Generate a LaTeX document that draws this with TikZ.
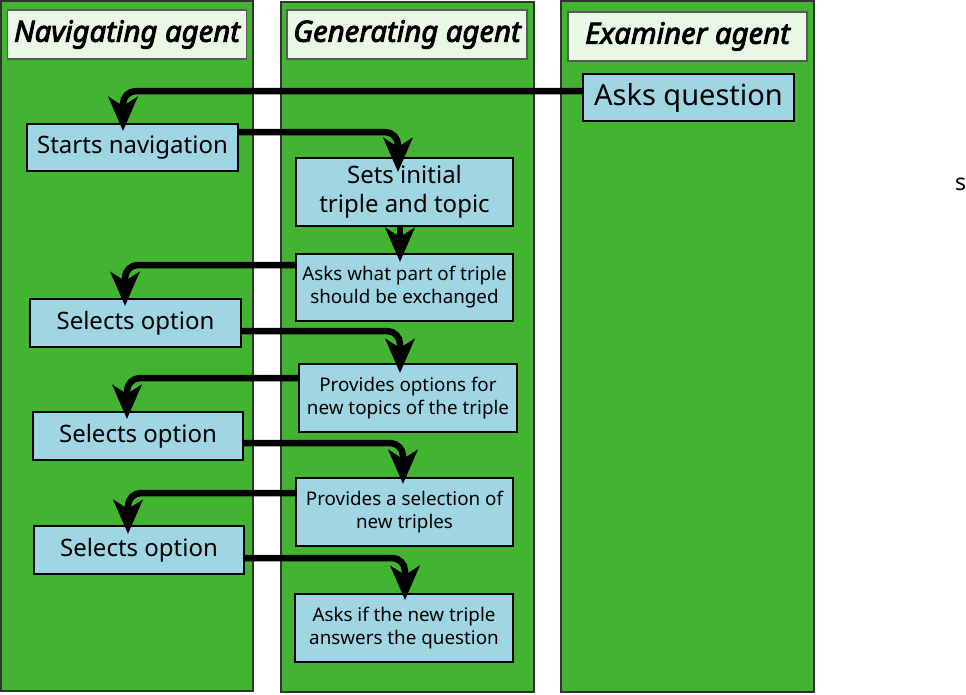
\documentclass[tikz,border=0pt]{standalone}
\usepackage{fontspec}
\setmainfont{Noto Sans}
\newfontfamily\headfont{Noto Sans}[ItalicFeatures={FakeBold=3}]
\usetikzlibrary{arrows.meta,calc}
\definecolor{lanegreen}{HTML}{42B431}
\definecolor{headfill}{HTML}{E8F8E4}
\definecolor{boxfill}{HTML}{A0D6E4}
\definecolor{laneedge}{HTML}{333333}
% #1 start point, #2 target node, #3 xshift, #4 yshift of tip
\newcommand\flowarrow[4]{%
  \draw[flowline] (#1) -| ([xshift=#3,yshift=#4+22pt]#2.north);
  \draw[flowtip] ([xshift=#3,yshift=#4+22pt]#2.north) -- ([xshift=#3,yshift=#4]#2.north);}
\begin{document}
\begin{tikzpicture}[x=1pt,y=-1pt,
  lane/.style={draw=laneedge,line width=1.5pt,fill=lanegreen},
  head/.style={draw=black!65,line width=1.5pt,fill=headfill,inner sep=0pt,
    minimum width=239pt,minimum height=49pt,font=\headfont\fontsize{29.3}{32}\selectfont\itshape},
  stepbox/.style={draw=black,line width=2pt,fill=boxfill,inner sep=0pt,align=center},
  big/.style={stepbox,font=\fontsize{24}{29}\selectfont},
  small/.style={stepbox,font=\fontsize{18.8}{23}\selectfont},
  flowline/.style={line width=6.5pt,rounded corners=13pt},
  flowtip/.style={line width=6.5pt,-{Stealth[length=34pt,width=29pt,inset=9pt]}}]
\useasboundingbox (0,0) rectangle (966,694);
% lanes
\path[lane] (1,1) rectangle (253,691);
\path[lane] (281,2) rectangle (534,692);
\path[lane] (561,1) rectangle (814,692);
% headers
\node[head] (h1) at (127,34.5) {Navigating agent};
\node[head,minimum width=240pt] (h2) at (407,34.5) {Generating agent};
\node[head] (h3) at (687.5,36.5) {Examiner agent};
% boxes
\node[stepbox,minimum width=211pt,minimum height=47pt,font=\fontsize{29}{32}\selectfont] (q) at (688.5,97.5) {Asks question};
\node[big,minimum width=211pt,minimum height=47pt] (start) at (132.5,147.5) {Starts navigation};
\node[big,minimum width=217pt,minimum height=68pt] (sets) at (404.5,192) {Sets initial\\triple and topic};
\node[small,minimum width=217pt,minimum height=67pt] (askpart) at (404.5,287.5) {Asks what part of triple\\should be exchanged};
\node[big,minimum width=211pt,minimum height=48pt] (sel1) at (135.5,323) {Selects option};
\node[small,minimum width=218pt,minimum height=68pt] (prov) at (408,398) {Provides options for\\new topics of the triple};
\node[big,minimum width=210pt,minimum height=48pt] (sel2) at (138,436) {Selects option};
\node[small,minimum width=217pt,minimum height=68pt] (provsel) at (404.5,512) {Provides a selection of\\new triples};
\node[big,minimum width=210pt,minimum height=48pt] (sel3) at (139,550) {Selects option};
\node[small,minimum width=218pt,minimum height=68pt] (askif) at (404,628) {Asks if the new triple\\answers the question};
\node[anchor=base west,inner sep=0pt,font=\fontsize{23}{26}\selectfont] (s) at (955,190) {s};
% arrows
\flowarrow{[yshift=6.5pt]q.west}{start}{-9.5pt}{-8pt}
\flowarrow{[yshift=15.5pt]start.east}{sets}{-6.5pt}{-15pt}
\draw[flowtip] ([xshift=-4.5pt]sets.south) -- ([xshift=-4.5pt,yshift=-9pt]askpart.north);
\flowarrow{[yshift=22.5pt]askpart.west}{sel1}{-10.5pt}{-8pt}
\flowarrow{[yshift=-8pt]sel1.east}{prov}{-8pt}{-10pt}
\flowarrow{[yshift=20pt]prov.west}{sel2}{-11pt}{-8pt}
\flowarrow{[yshift=-7pt]sel2.east}{provsel}{-1.5pt}{-7pt}
\flowarrow{[yshift=19pt]provsel.west}{sel3}{-11pt}{-9pt}
\flowarrow{[yshift=-8pt]sel3.east}{askif}{1pt}{-7pt}
\end{tikzpicture}
\end{document}
